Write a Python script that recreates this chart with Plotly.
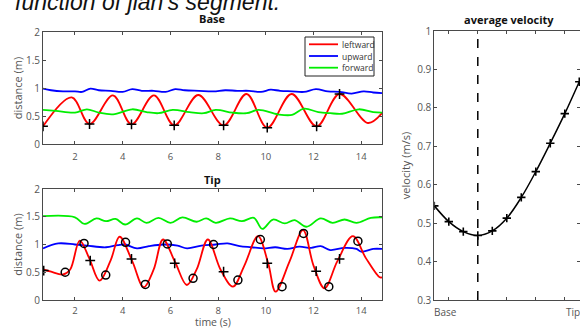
import plotly.graph_objects as go

W, H = 580, 329

# ---------------- data ----------------
# Base panel
base_left_t = [0.66, 1.86, 2.61, 3.59, 4.37, 5.31, 6.16, 7.17, 8.23, 9.19, 10.06, 11.08, 12.13, 13.09, 14.28, 14.87]
base_left_v = [0.315, 0.833, 0.357, 0.869, 0.351, 0.869, 0.333, 0.875, 0.333, 0.893, 0.292, 0.893, 0.315, 0.893, 0.375, 0.55]

base_up_t = [0.66, 1.0, 1.5, 2.0, 2.3, 2.65, 3.0, 3.5, 4.0, 4.4, 4.8, 5.3, 5.8, 6.2, 6.6, 7.2, 7.8, 8.3, 8.8, 9.3, 9.8, 10.2, 10.6, 11.1, 11.6, 12.1, 12.6, 13.1, 13.6, 14.1, 14.5, 14.87]
base_up_v = [0.99, 0.96, 0.94, 0.94, 0.93, 0.99, 0.96, 0.95, 0.93, 0.98, 0.95, 0.95, 0.93, 0.98, 0.96, 0.95, 0.94, 0.96, 0.95, 0.95, 0.93, 0.97, 0.95, 0.94, 0.93, 0.98, 0.94, 0.93, 0.90, 0.94, 0.92, 0.91]

base_fw_t = [0.66, 1.2, 2.0, 2.5, 3.0, 3.6, 4.4, 5.0, 5.5, 6.1, 6.8, 7.4, 7.9, 8.6, 9.2, 9.7, 10.5, 11.1, 11.6, 12.2, 12.7, 13.2, 13.9, 14.5, 14.87]
base_fw_v = [0.61, 0.59, 0.56, 0.62, 0.56, 0.53, 0.62, 0.57, 0.55, 0.61, 0.57, 0.55, 0.61, 0.56, 0.55, 0.61, 0.53, 0.52, 0.63, 0.57, 0.55, 0.54, 0.62, 0.57, 0.56]

base_plus_t = [0.66, 2.61, 4.37, 6.16, 8.23, 10.06, 12.13, 13.09]
base_plus_v = [0.315, 0.357, 0.351, 0.333, 0.333, 0.292, 0.315, 0.893]

# Tip panel
tip_left_t = [0.66, 1.0, 1.5, 1.8, 2.2, 2.6, 3.03, 3.5, 3.87, 4.4, 4.88, 5.3, 5.69, 6.2, 6.69, 7.1, 7.57, 8.1, 8.62, 9.1, 9.67, 10.1, 10.41, 11.0, 11.56, 12.0, 12.46, 13.0, 13.65, 14.2, 14.77, 14.87]
tip_left_v = [0.55, 0.51, 0.46, 0.55, 1.07, 0.75, 0.35, 0.72, 1.14, 0.70, 0.23, 0.55, 1.09, 0.68, 0.27, 0.55, 1.09, 0.55, 0.24, 0.62, 1.15, 0.66, 0.15, 0.70, 1.26, 0.62, 0.21, 0.70, 1.15, 0.75, 0.41, 0.41]

tip_up_t = [0.66, 1.3, 2.0, 2.5, 3.3, 3.8, 4.1, 4.6, 5.1, 5.7, 6.3, 6.7, 7.3, 7.9, 8.4, 8.9, 9.4, 9.9, 10.4, 10.9, 11.4, 11.9, 12.3, 12.7, 13.3, 13.8, 14.0, 14.5, 14.87]
tip_up_v = [0.93, 1.02, 1.0, 0.98, 0.95, 0.99, 1.0, 0.93, 0.97, 1.0, 0.98, 0.93, 0.98, 1.0, 1.02, 0.97, 0.95, 0.93, 0.95, 0.92, 0.96, 0.94, 0.97, 0.90, 0.94, 0.92, 0.87, 0.92, 0.92]

tip_fw_t = [0.66, 2.0, 2.4, 2.9, 3.3, 3.7, 4.1, 4.6, 5.0, 5.5, 6.0, 6.5, 7.1, 7.5, 7.9, 8.5, 9.0, 9.5, 9.85, 10.3, 10.8, 11.2, 11.7, 12.3, 12.8, 13.3, 13.8, 14.4, 14.87]
tip_fw_v = [1.51, 1.49, 1.37, 1.47, 1.42, 1.46, 1.36, 1.47, 1.39, 1.48, 1.39, 1.49, 1.41, 1.47, 1.39, 1.47, 1.42, 1.48, 1.28, 1.45, 1.38, 1.44, 1.32, 1.47, 1.39, 1.45, 1.39, 1.48, 1.49]

tip_circ_t = [1.59, 2.38, 3.29, 4.12, 4.95, 5.87, 6.95, 7.81, 8.83, 9.77, 10.68, 11.58, 12.64, 13.86]
tip_circ_v = [0.50, 1.02, 0.45, 1.04, 0.28, 1.01, 0.39, 1.00, 0.36, 1.09, 0.24, 1.20, 0.24, 1.06]

tip_plus_t = [0.69, 2.64, 4.37, 6.18, 8.23, 10.06, 12.11, 13.09]
tip_plus_v = [0.53, 0.71, 0.74, 0.66, 0.51, 0.66, 0.52, 0.74]

# Velocity panel
seg_idx = [0, 1, 2, 3, 4, 5, 6, 7, 8, 9, 10]
velocity = [0.545, 0.504, 0.478, 0.468, 0.480, 0.513, 0.567, 0.634, 0.708, 0.785, 0.868]
min_seg = 3
seg_ticks = [1, 3, 5, 7, 9]

legend_names = ["leftward", "upward", "forward"]

# ---------------- figure ----------------
RED, BLUE, GREEN = "#ff0000", "#0000ff", "#00ee00"
legend_colors = [RED, BLUE, GREEN]
AX = "#4a4a4a"
TICKC = "#555555"
FONT = "Open Sans"

fig = go.Figure()

def line(x, y, color, xa, ya, name=None):
    fig.add_trace(go.Scatter(x=x, y=y, mode="lines", line=dict(color=color, width=1.8, shape="spline"),
                             name=name, showlegend=False, xaxis=xa, yaxis=ya, hoverinfo="skip"))

def markers(x, y, symbol, size, xa, ya, lw=1.5):
    fig.add_trace(go.Scatter(x=x, y=y, mode="markers",
                             marker=dict(symbol=symbol, size=size, color="black",
                                         line=dict(color="black", width=lw)),
                             showlegend=False, xaxis=xa, yaxis=ya, hoverinfo="skip"))

line(base_left_t, base_left_v, RED, "x", "y", legend_names[0])
line(base_up_t, base_up_v, BLUE, "x", "y", legend_names[1])
line(base_fw_t, base_fw_v, GREEN, "x", "y", legend_names[2])
markers(base_plus_t, base_plus_v, "cross-thin", 7, "x", "y")

line(tip_fw_t, tip_fw_v, GREEN, "x2", "y2", legend_names[2])
line(tip_up_t, tip_up_v, BLUE, "x2", "y2", legend_names[1])
line(tip_left_t, tip_left_v, RED, "x2", "y2", legend_names[0])
markers(tip_plus_t, tip_plus_v, "cross-thin", 7, "x2", "y2")
markers(tip_circ_t, tip_circ_v, "circle-open", 8, "x2", "y2", lw=1.5)

fig.add_trace(go.Scatter(x=seg_idx, y=velocity, mode="lines+markers",
                         line=dict(color="black", width=1.5, shape="spline"),
                         marker=dict(symbol="cross-thin", size=6, color="black", line=dict(color="black", width=1.6)),
                         showlegend=False, xaxis="x3", yaxis="y3", hoverinfo="skip"))

def px_x(p):
    return p / W

def px_y(p):
    return 1 - p / H

common = dict(showline=True, linecolor=AX, linewidth=1, mirror="allticks", ticks="inside",
              ticklen=3, tickcolor=AX, showgrid=False, zeroline=False, automargin=False,
              tickfont=dict(family=FONT, size=10, color=TICKC))
xcommon = dict(common, tickfont=dict(family=FONT, size=9.5, color=TICKC))

left_dom = [px_x(43), px_x(382)]
xr = [0.66, 14.87]
fig.update_layout(
    width=W, height=H, margin=dict(l=0, r=0, t=0, b=0, autoexpand=False),
    paper_bgcolor="white", plot_bgcolor="white",
    font=dict(family=FONT, color=TICKC),
    showlegend=False,
    xaxis=dict(domain=left_dom, range=xr, anchor="y", tickvals=[2, 4, 6, 8, 10, 12, 14],
               ticklabelstandoff=4, **xcommon),
    yaxis=dict(domain=[px_y(144), px_y(32)], range=[0, 2], anchor="x", tickvals=[0, 0.5, 1, 1.5, 2],
               title=dict(text="distance (m)", font=dict(size=11, color=TICKC), standoff=1), **common),
    xaxis2=dict(domain=left_dom, range=xr, anchor="y2", tickvals=[2, 4, 6, 8, 10, 12, 14],
                ticklabelstandoff=2, **xcommon),
    yaxis2=dict(domain=[px_y(300), px_y(189)], range=[0, 2], anchor="x2", tickvals=[0, 0.5, 1, 1.5, 2],
                title=dict(text="distance (m)", font=dict(size=11, color=TICKC), standoff=1), **common),
    xaxis3=dict(domain=[px_x(434.3), 1.0], range=[0, 10.05], anchor="y3", tickvals=seg_ticks,
                showticklabels=False, **common),
    yaxis3=dict(domain=[px_y(300), px_y(31)], range=[0.3, 1.0], anchor="x3", dtick=0.1, tick0=0.3,
                title=dict(text="velocity (m/s)", font=dict(size=11, color=TICKC), standoff=4), **common),
)

fig.add_shape(type="line", xref="x3", yref="y3", x0=min_seg, x1=min_seg, y0=0.3, y1=1.0,
              line=dict(color="black", width=1.5, dash="dash"))

# compact legend box (Base panel)
fig.add_shape(type="rect", xref="paper", yref="paper", x0=px_x(305), x1=px_x(374),
              y0=px_y(76), y1=px_y(37), line=dict(color="#222", width=1), fillcolor="white", layer="above")
for i, (nm, col) in enumerate(zip(legend_names, legend_colors)):
    yy = 44.3 + i * 11.7
    fig.add_shape(type="line", xref="paper", yref="paper", x0=px_x(309), x1=px_x(338),
                  y0=px_y(yy), y1=px_y(yy), line=dict(color=col, width=1.8), layer="above")
    fig.add_annotation(xref="paper", yref="paper", x=px_x(340), y=px_y(yy), text=nm, showarrow=False,
                       xanchor="left", yanchor="middle", font=dict(family=FONT, size=8.5, color="#333"))

ann = [
    dict(text="<b>Base</b>", x=px_x(212.5), y=px_y(18.5), font=dict(size=11, color="#111")),
    dict(text="<b>Tip</b>", x=px_x(212.5), y=px_y(179), font=dict(size=11, color="#111")),
    dict(text="<b>average velocity</b>", x=px_x(509), y=px_y(19), font=dict(size=11, color="#111")),
    dict(text="time (s)", x=px_x(212.5), y=px_y(321.5), font=dict(size=10.5, color=TICKC)),
    dict(text="Base", x=px_x(445), y=px_y(312), font=dict(size=10, color=TICKC)),
    dict(text="Tip", x=px_x(573), y=px_y(312), font=dict(size=10, color=TICKC)),
    dict(text="<i>function of jian's segment.</i>", x=px_x(13), y=px_y(1.5), xanchor="left",
         font=dict(family="Liberation Sans", size=23, color="#111")),
]
for a in ann:
    a.setdefault("xanchor", "center")
    fig.add_annotation(xref="paper", yref="paper", showarrow=False, yanchor="middle", **a)

fig.write_html("out.html")
